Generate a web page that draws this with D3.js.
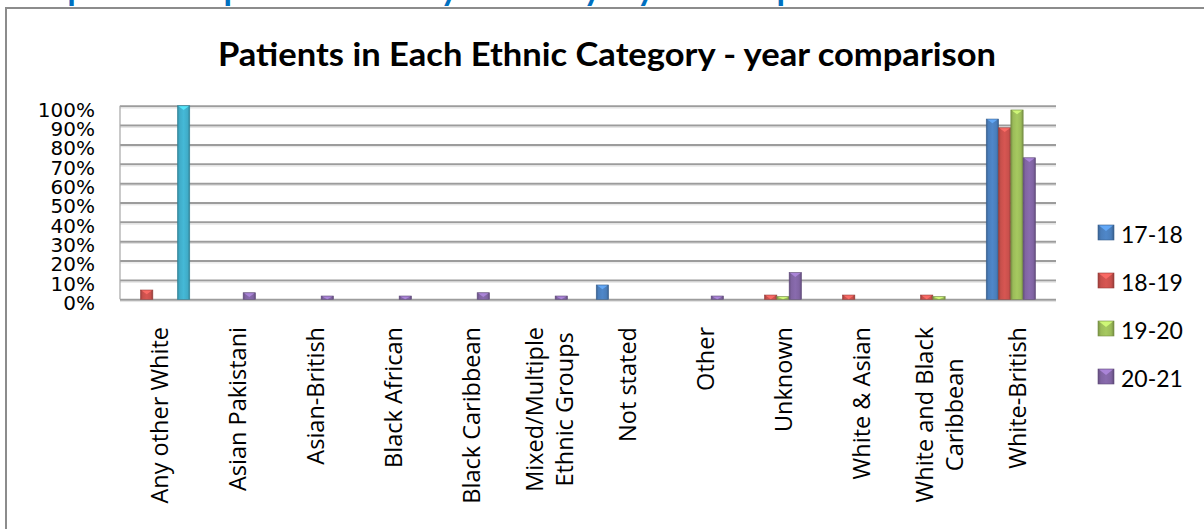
<!DOCTYPE html>
<html lang="en">
<head>
<meta charset="utf-8">
<title>Patients in Each Ethnic Category - year comparison</title>
<script src="https://cdn.jsdelivr.net/npm/d3@7"></script>
<style>
  body { margin: 0; background: #fff; }
  svg { display: block; }
</style>
</head>
<body>
<svg id="chart" width="1204" height="529"></svg>
<script>
// categories on the x axis ("\n" = line break in the label)
var categories = ["Any other White", "Asian Pakistani", "Asian-British", "Black African",
  "Black Caribbean", "Mixed/Multiple\nEthnic Groups", "Not stated", "Other", "Unknown",
  "White & Asian", "White and Black\nCaribbean", "White-British"];

// one list per year (percent of patients)
var years = ["17-18", "18-19", "19-20", "20-21", ""];
var v1718 = [0, 0, 0, 0, 0, 0, 7.4, 0, 0, 0, 0, 93.1];
var v1819 = [4.8, 0, 0, 0, 0, 0, 0, 0, 2.2, 2.2, 2.2, 88.6];
var v1920 = [0, 0, 0, 0, 0, 0, 0, 0, 1.4, 0, 1.4, 97.8];
var v2021 = [0, 3.4, 1.7, 1.7, 3.4, 1.7, 0, 1.7, 13.8, 0, 0, 73.1];
var vExtra = [100, 0, 0, 0, 0, 0, 0, 0, 0, 0, 0, 0];   // unlabelled series, not in legend
var values = [v1718, v1819, v1920, v2021, vExtra];

var yTicks = d3.range(0, 101, 10);

var colors = ["#4a7ebb", "#c8504c", "#9bbb59", "#8064a2", "#40acc8"];

var svg = d3.select("#chart"),
    margin = {top: 105.7, left: 120, right: 1056, bottom: 299.3};

// blue caption of the page, mostly cut off at the top
svg.append("text")
    .attr("x", 12).attr("y", 0)
    .attr("textLength", 878).attr("lengthAdjust", "spacingAndGlyphs")
    .style("font-family", "Lato").style("font-weight", "bold").style("font-size", "34px")
    .attr("fill", "#0070c0")
    .text("Graph 4: Completed cases by ethnicity \u2013 year comparison");

// chart frame (runs off the right and bottom edges)
svg.append("rect")
    .attr("x", 6).attr("y", 8).attr("width", 1400).attr("height", 700)
    .attr("fill", "#fff").attr("stroke", "#8c8c8c").attr("stroke-width", 2);

svg.append("text")
    .attr("x", 607).attr("y", 66)
    .attr("text-anchor", "middle")
    .attr("textLength", 778).attr("lengthAdjust", "spacingAndGlyphs")
    .style("font-family", "Lato").style("font-weight", "bold").style("font-size", "32px")
    .attr("fill", "#000")
    .text("Patients in Each Ethnic Category - year comparison");

// gradients for the bevelled bars
var defs = svg.append("defs");
colors.forEach(function(c, i) {
    var g = defs.append("linearGradient").attr("id", "grad" + i)
        .attr("x1", "0%").attr("x2", "100%").attr("y1", "0%").attr("y2", "0%");
    var base = d3.color(c);
    g.append("stop").attr("offset", "0%").attr("stop-color", base.darker(0.7));
    g.append("stop").attr("offset", "18%").attr("stop-color", base);
    g.append("stop").attr("offset", "50%").attr("stop-color", base.brighter(0.2));
    g.append("stop").attr("offset", "82%").attr("stop-color", base);
    g.append("stop").attr("offset", "100%").attr("stop-color", base.darker(0.8));
});

var x = d3.scaleBand()
    .domain(categories)
    .range([margin.left, margin.right]);

var xs = d3.scaleBand()
    .domain(d3.range(years.length))
    .range([0, x.bandwidth()])
    .paddingOuter(0.67);

var y = d3.scaleLinear()
    .domain([0, 100])
    .range([margin.bottom, margin.top]);

// gridlines
var grid = svg.append("g")
    .attr("transform", "translate(" + margin.left + ",0)")
    .call(d3.axisLeft(y).tickValues(yTicks).tickSize(-(margin.right - margin.left)).tickFormat(""));
grid.select(".domain").remove();
grid.selectAll(".tick line").attr("stroke", "#9c9c9c").attr("stroke-width", 2);
grid.selectAll(".tick").append("line")
    .attr("x1", 0).attr("x2", margin.right - margin.left)
    .attr("y1", 1.8).attr("y2", 1.8)
    .attr("stroke", "#e2e2e2").attr("stroke-width", 1);

svg.append("line")
    .attr("x1", margin.left).attr("x2", margin.left)
    .attr("y1", y(100)).attr("y2", y(0))
    .attr("stroke", "#a6a6a6").attr("stroke-width", 1.2);

// y tick labels
var yAxis = svg.append("g")
    .attr("transform", "translate(95,0)")
    .call(d3.axisLeft(y).tickValues(yTicks).tickSize(0).tickPadding(0).tickFormat(d => d + "%"));
yAxis.select(".domain").remove();
yAxis.selectAll("text")
    .attr("dy", "0.52em")
    .style("font-family", "DejaVu Sans").style("font-size", "20px").attr("fill", "#000");

// bars
var bars = [];
values.forEach(function(vals, s) {
    vals.forEach(function(v, i) {
        if (v > 0) bars.push({cat: categories[i], s: s, v: v});
    });
});

var bar = svg.append("g").selectAll("g")
    .data(bars)
  .enter().append("g");

bar.append("rect")
    .attr("x", d => x(d.cat) + xs(d.s))
    .attr("y", d => y(d.v))
    .attr("width", xs.bandwidth())
    .attr("height", d => y(0) - y(d.v))
    .attr("fill", d => "url(#grad" + d.s + ")")
    .attr("stroke", d => d3.color(colors[d.s]).darker(0.8))
    .attr("stroke-width", 0.6);

// light "v" on top of each bar
bar.append("path")
    .attr("d", function(d) {
        var x0 = x(d.cat) + xs(d.s), w = xs.bandwidth(), y0 = y(d.v);
        var h = Math.min(w * 0.35, y(0) - y0);
        return "M" + (x0 + 1) + "," + (y0 + 0.5) + "L" + (x0 + w - 1) + "," + (y0 + 0.5) +
               "L" + (x0 + w / 2) + "," + (y0 + h) + "Z";
    })
    .attr("fill", d => d3.color(colors[d.s]).brighter(0.9))
    .attr("opacity", 0.85);

// category labels, rotated
var labelTop = 327;
var lab = svg.append("g").selectAll("text")
    .data(categories)
  .enter().append("text")
    .style("font-family", "Open Sans").style("font-size", "23.5px").attr("fill", "#000");

lab.each(function(c) {
    var t = d3.select(this), lines = c.split("\n");
    lines.forEach(function(l, i) {
        t.append("tspan").attr("x", 0)
            .attr("y", (i - (lines.length - 1) / 2) * 30)
            .attr("dy", "0.36em")
            .attr("text-anchor", "middle")
            .text(l);
    });
    var len = d3.max(t.selectAll("tspan").nodes(), n => n.getComputedTextLength());
    t.attr("transform", "translate(" + (x(c) + x.bandwidth() / 2 + 1) + "," + (labelTop + len / 2) + ") rotate(-90)");
});

// legend
var legend = svg.append("g").selectAll("g")
    .data(years.filter(d => d !== ""))
  .enter().append("g")
    .attr("transform", (d, i) => "translate(1098," + (225 + i * 48) + ")");

legend.append("rect")
    .attr("width", 16).attr("height", 15)
    .attr("fill", (d, i) => "url(#grad" + i + ")")
    .attr("stroke", (d, i) => d3.color(colors[i]).darker(0.8))
    .attr("stroke-width", 0.6);

legend.append("path")
    .attr("d", "M1,0.5L15,0.5L8,6Z")
    .attr("fill", (d, i) => d3.color(colors[i]).brighter(0.9))
    .attr("opacity", 0.85);

legend.append("text")
    .attr("x", 23).attr("y", 18)
    .style("font-family", "Lato").style("font-size", "23px").attr("fill", "#000")
    .text(d => d);
</script>
</body>
</html>
